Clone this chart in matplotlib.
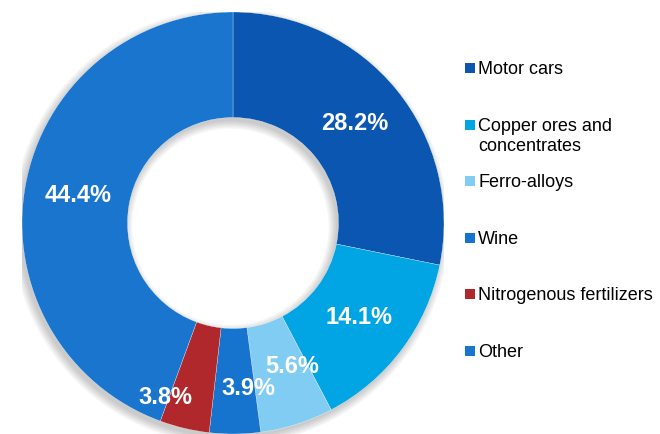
import matplotlib.pyplot as plt
from matplotlib.patches import Wedge
import numpy as np

plt.rcParams['font.family'] = ['Liberation Sans', 'DejaVu Sans']

labels = ["Motor cars", "Copper ores and\nconcentrates", "Ferro-alloys", "Wine",
          "Nitrogenous fertilizers", "Other"]
shares = [28.2, 14.1, 5.6, 3.9, 3.8, 44.4]
colors = ["#0A56B0", "#02A5E3", "#80CCF3", "#1674CF", "#B0282C", "#1A75CF"]
# small nudges for labels that sit off the wedge middle
nudges = [(0, 0), (0, 0), (0.057, 0.028), (0.066, -0.038), (-0.147, -0.1), (0, 0)]

fig = plt.figure(figsize=(6.6, 4.34), dpi=100)
ax = fig.add_axes([22 / 660, 0, 422 / 660, 422 / 434])

# soft shadow under the ring
for k in range(6):
    grow = k * 0.007
    sh = Wedge((-0.012, -0.018), 1.0 + grow, 0, 360, width=0.5 + 2 * grow,
               facecolor="black", alpha=0.035, edgecolor="none", zorder=0)
    ax.add_patch(sh)

wedges, texts, autotexts = ax.pie(
    shares, colors=colors, startangle=90, counterclock=False,
    radius=1.0, wedgeprops=dict(width=0.5, edgecolor="white", linewidth=0.2),
    autopct=lambda p: f"{p:.1f}%", pctdistance=0.745,
    textprops=dict(color="white", fontsize=17, fontweight="bold"))

for w in wedges:
    w.set_zorder(2)
for t, v, (dx, dy) in zip(autotexts, shares, nudges):
    t.set_text(f"{v:.1f}%")
    x, y = t.get_position()
    t.set_position((x + dx, y + dy))
    t.set_zorder(3)

ax.set_xlim(-1, 1)
ax.set_ylim(-1, 1)
ax.axis("off")

# legend drawn by hand so the two-line label lines up like the original
y0 = 68
step = 56.6
for i, (lab, c) in enumerate(zip(labels, colors)):
    yc = y0 + i * step
    fig.patches.append(plt.Rectangle((465 / 660, 1 - (yc + 5) / 434), 10 / 660, 10 / 434,
                                     transform=fig.transFigure, facecolor=c,
                                     edgecolor="none"))
    for j, line in enumerate(lab.split("\n")):
        fig.text(478 / 660, 1 - (yc + 6 + j * 20) / 434, line, fontsize=13,
                 color="black", va="baseline", ha="left")

fig.savefig("out.png", dpi=100)
